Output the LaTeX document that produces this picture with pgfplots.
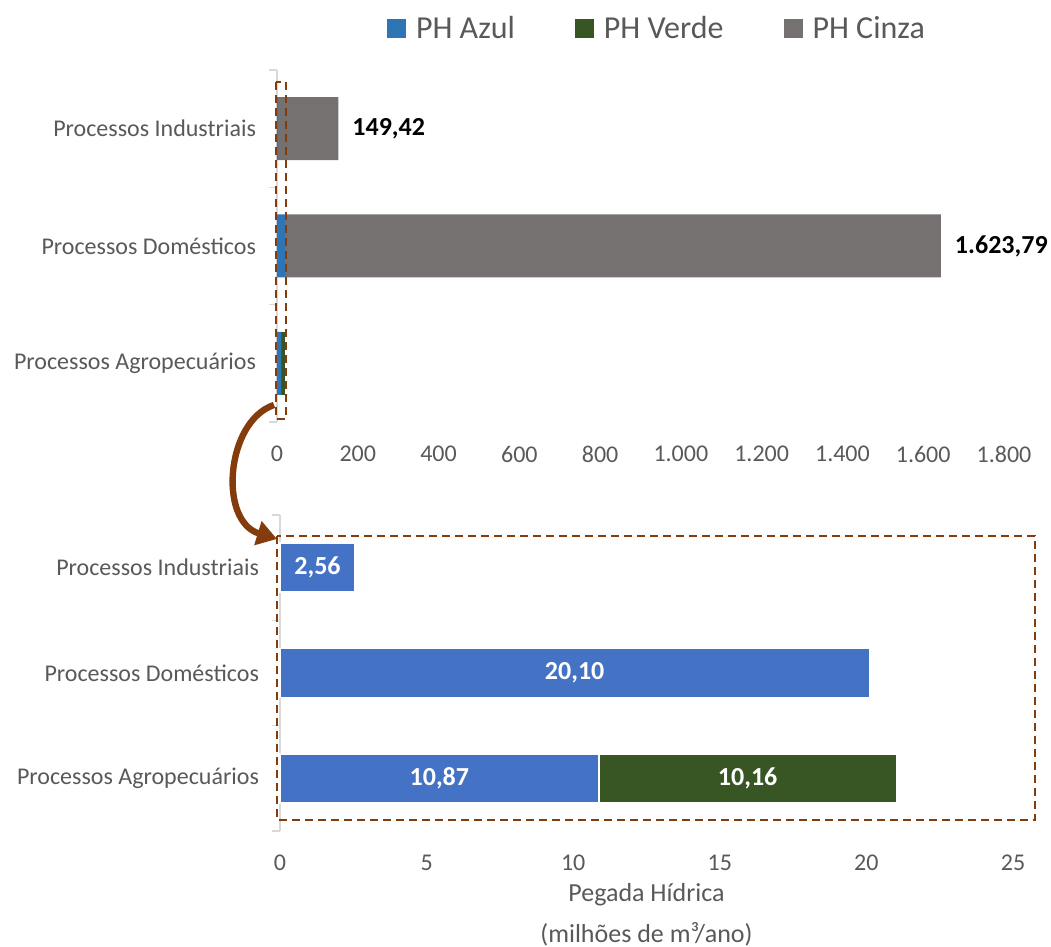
\documentclass[border=0pt]{standalone}
\usepackage{pgfplots}
\pgfplotsset{compat=1.18}
\usepackage{fontspec}
\setmainfont{Carlito}
\usetikzlibrary{arrows.meta}
\definecolor{azul}{HTML}{2E75B6}
\definecolor{azulb}{HTML}{4472C4}
\definecolor{verde}{HTML}{375623}
\definecolor{cinza}{HTML}{767171}
\definecolor{txt}{HTML}{595959}
\definecolor{marrom}{HTML}{843C0C}
\definecolor{eixo}{HTML}{D9D9D9}
\pgfplotsset{
  common/.style={
    scale only axis, xbar stacked, enlargelimits=false, clip=false,
    ymin=-0.5, ymax=2.5, ytick={0,1,2},
    yticklabels={Processos Agropecuários, Processos Domésticos, Processos Industriais},
    minor ytick={-0.5,0.5,1.5,2.5},
    major tick length=0pt, minor tick length=4pt, tick align=outside,
    axis x line*=bottom, axis y line*=left,
    x axis line style={draw=none}, y axis line style={draw=eixo, line width=0.8pt},
    minor y tick style={draw=eixo, line width=0.8pt},
    xtick style={draw=none},
    tick label style={font=\fontsize{12}{14}\selectfont, text=txt},
    yticklabel style={xshift=-7pt},
    xticklabel style={yshift=-8.5pt},
    /pgf/number format/assume math mode=true,
    /pgf/number format/use comma,
    /pgf/number format/1000 sep={.},
  },
}
\begin{document}
\begin{tikzpicture}
\path[use as bounding box] (0,0) rectangle (525.5pt,473.5pt);
% upper chart
\begin{axis}[common, at={(138.5pt,262.5pt)}, anchor=south west,
  width=363.5pt, height=176pt, xmin=0, xmax=1800, xtick={0,200,...,1800},
  bar width=0.537,
  legend columns=3,
  legend style={at={(0.524,1.117)}, anchor=center, draw=none, fill=none,
    font=\fontsize{16}{18}\selectfont, text=txt,
    /tikz/every even column/.append style={column sep=28pt},
    /tikz/every odd column/.append style={column sep=3pt}},
]
\addplot[fill=azul, draw=none,
  legend image code/.code={\fill[azul] (0pt,-4.5pt) rectangle (9.5pt,5pt);}]
  coordinates {(10.87,0) (20.10,1) (2.56,2)};
\addlegendentry{PH Azul}
\addplot[fill=verde, draw=none,
  legend image code/.code={\fill[verde] (0pt,-4.5pt) rectangle (9.5pt,5pt);}]
  coordinates {(10.16,0) (0,1) (0,2)};
\addlegendentry{PH Verde}
\addplot[fill=cinza, draw=none,
  legend image code/.code={\fill[cinza] (0pt,-4.5pt) rectangle (9.5pt,5pt);},
  nodes near coords, point meta=explicit symbolic,
  visualization depends on={rawx \as \rawx},
  every node near coord/.append style={font=\fontsize{13}{15}\selectfont\bfseries, text=black, anchor=west, xshift={0.5*\rawx*0.20194pt+3.5pt}}]
  coordinates {(0,0) [{}] (1623.79,1) [1.623,79] (149.42,2) [149,42]};
\addlegendentry{PH Cinza}
\end{axis}
% lower chart
\begin{axis}[common, at={(140pt,58pt)}, anchor=south west,
  width=366.5pt, height=158pt, xmin=0, xmax=25, xtick={0,5,...,25},
  bar width=0.467,
  xlabel={Pegada Hídrica\\(milhões de m³/ano)},
  xlabel style={align=center, font=\fontsize{13}{20.5}\selectfont, text=txt, yshift=0.5pt},
]
\addplot[fill=azulb, draw=white, line width=0.8pt,
  nodes near coords, point meta=explicit symbolic,
  every node near coord/.append style={font=\fontsize{13}{15}\selectfont\bfseries, text=white}]
  coordinates {(10.87,0) [10,87] (20.10,1) [20,10] (2.56,2) [2,56]};
\addplot[fill=verde, draw=white, line width=0.8pt,
  nodes near coords, point meta=explicit symbolic,
  every node near coord/.append style={font=\fontsize{13}{15}\selectfont\bfseries, text=white}]
  coordinates {(10.16,0) [10,16] (0,1) [{}] (0,2) [{}]};
\end{axis}
% dashed boxes and arrow
\draw[marrom, line width=1.2pt, dash pattern=on 4pt off 2.5pt] (138pt,432.5pt) rectangle (143pt,264pt);
\draw[marrom, line width=1.2pt, dash pattern=on 4pt off 2.5pt] (138.5pt,205.5pt) rectangle (517.5pt,63.5pt);
\draw[marrom, line width=3.2pt, -{Triangle[length=10pt,width=12pt]}]
  (137pt,271pt) .. controls (113pt,263pt) and (109pt,213pt) .. (138.5pt,204pt);
\end{tikzpicture}
\end{document}
